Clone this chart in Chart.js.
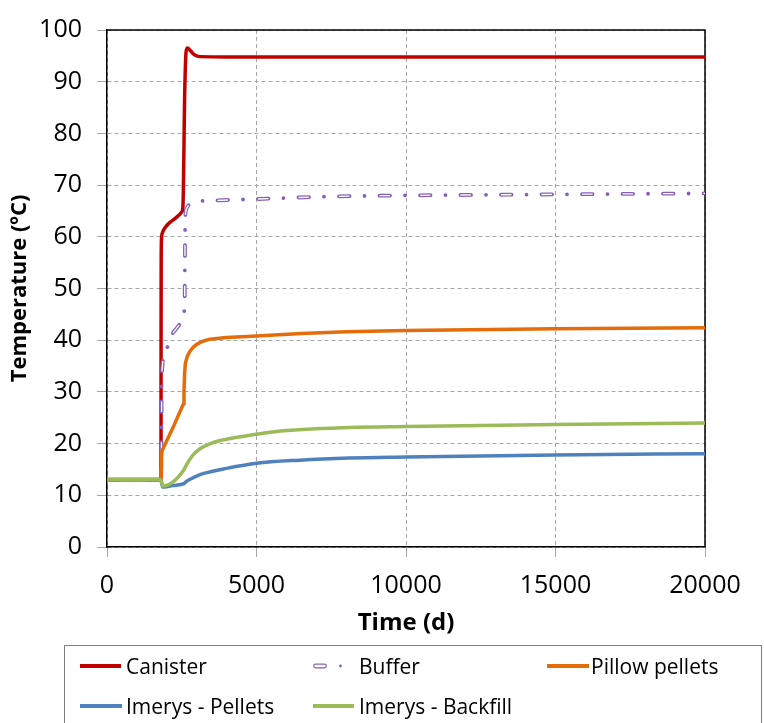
<!DOCTYPE html>
<html>
<head>
<meta charset="utf-8">
<title>Temperature evolution</title>
<script src="https://cdn.jsdelivr.net/npm/chart.js@4.4.0/dist/chart.umd.min.js"></script>
<style>
  body { margin: 0; background: #fff; }
  #wrap { position: relative; width: 764px; height: 723px; overflow: hidden; font-family: 'Open Sans', sans-serif; }
  #legend { position: absolute; left: 64px; top: 645px; width: 698px; height: 100px; border: 1.5px solid #808080; box-sizing: border-box; }
  .item { position: absolute; height: 30px; display: flex; align-items: center; font-size: 21px; color: #000; white-space: nowrap; }
  .swatch { display: inline-block; width: 42px; height: 4px; }
</style>
</head>
<body>
<div id="wrap">
  <canvas id="myChart" width="764" height="723"></canvas>
  <div id="legend"></div>
</div>
<script>
'use strict';

// time in days, temperature in ºC
let canister = [[0, 13.0], [1790, 13.0], [1806, 14], [1808, 40], [1812, 55], [1822, 59.5], [1845, 60.6],
  [1885, 61.2], [1960, 61.9], [2050, 62.5], [2330, 63.8], [2500, 64.8], [2540, 66], [2600, 88],
  [2640, 95.5], [2670, 96.4], [2700, 96.5], [2760, 96.2], [2850, 95.6], [2950, 95.1], [3100, 94.85],
  [4000, 94.8], [20000, 94.8]];
let buffer = [[0, 13.0], [1800, 13.0], [1822, 20], [1832, 33], [1940, 37.4], [2100, 40.2], [2270, 41.9],
  [2552, 44.3], [2595, 47], [2605, 55], [2615, 63], [2650, 65.3], [2940, 66.7], [3500, 67.0],
  [5000, 67.3], [7500, 67.8], [10000, 68.0], [15000, 68.2], [20000, 68.4]];
let pillowPellets = [[0, 13.1], [1800, 13.1], [1812, 15], [1825, 17.6], [1840, 18.6], [2200, 23],
  [2548, 27.6], [2575, 30], [2595, 33.5], [2620, 35.5], [2680, 36.8], [2776, 37.9], [2880, 38.6],
  [3000, 39.2], [3200, 39.8], [3445, 40.2], [4000, 40.5], [5000, 40.8], [6500, 41.3], [8000, 41.65],
  [10000, 41.9], [15000, 42.2], [20000, 42.4]];
let imerysPellets = [[0, 13.0], [1800, 13.0], [1860, 11.6], [2200, 11.9], [2590, 12.3], [2620, 12.5],
  [2850, 13.3], [3110, 14.0], [3500, 14.6], [3900, 15.1], [5000, 16.2], [6450, 16.8], [8100, 17.2],
  [10000, 17.4], [15000, 17.8], [20000, 18.05]];
let imerysBackfill = [[0, 13.0], [1800, 13.0], [1860, 11.8], [2590, 15.1], [2630, 15.6], [2850, 17.6],
  [3110, 19.0], [3500, 20.1], [3780, 20.6], [5000, 21.8], [5600, 22.3], [8100, 23.1], [10000, 23.3],
  [15000, 23.7], [20000, 24.0]];

let seriesNames = ['Canister', 'Buffer', 'Pillow pellets', 'Imerys - Pellets', 'Imerys - Backfill'];
let seriesColors = ['#C00000', '#8660B8', '#E46C0A', '#4F81BD', '#9BBB59'];

let xMin = 0, xMax = 20000, xStep = 5000;
let yMin = 0, yMax = 100, yStep = 10;

function toPoints(arr) {
    return arr.map(p => ({ x: p[0], y: p[1] }));
}

function lineSet(label, data, color, order) {
    return {
        label: label,
        data: toPoints(data),
        borderColor: color,
        borderWidth: 3.5,
        pointRadius: 0,
        cubicInterpolationMode: 'monotone',
        borderJoinStyle: 'round',
        order: order
    };
}

let datasets = [
    lineSet(seriesNames[0], canister, seriesColors[0], 7),
    Object.assign(lineSet(seriesNames[1], buffer, seriesColors[1], 6), {
        borderWidth: 3.8, borderCapStyle: 'round', borderDash: [10.5, 15, 0.01, 15]
    }),
    // white core on the buffer dashes, gives them the hollow look
    Object.assign(lineSet('', buffer, '#ffffff', 5), {
        borderWidth: 1.3, borderCapStyle: 'butt', borderDash: [10.5, 30.01]
    }),
    // straight segments here, the ramp before the jump is linear
    Object.assign(lineSet(seriesNames[2], pillowPellets, seriesColors[2], 4), {
        cubicInterpolationMode: 'default', tension: 0
    }),
    lineSet(seriesNames[3], imerysPellets, seriesColors[3], 3),
    lineSet(seriesNames[4], imerysBackfill, seriesColors[4], 2)
];

// top and right edges of the plot box
let plotFrame = {
    id: 'plotFrame',
    beforeDatasetsDraw(chart) {
        let ctx = chart.ctx;
        let a = chart.chartArea;
        ctx.save();
        ctx.strokeStyle = '#000';
        ctx.lineWidth = 1.5;
        ctx.beginPath();
        ctx.moveTo(a.left, a.top);
        ctx.lineTo(a.right, a.top);
        ctx.lineTo(a.right, a.bottom);
        ctx.stroke();
        ctx.restore();
    }
};

let gridColor = '#a6a6a6';
let ctx = document.getElementById('myChart').getContext('2d');

let myChart = new Chart(ctx, {
    type: 'line',
    data: { datasets: datasets },
    plugins: [plotFrame],
    options: {
        responsive: false,
        animation: false,
        devicePixelRatio: 1,
        layout: { padding: { top: 19, right: 59, bottom: 78, left: 0 } },
        plugins: { legend: { display: false }, tooltip: { enabled: false } },
        scales: {
            x: {
                type: 'linear',
                min: xMin,
                max: xMax,
                afterFit(scale) { scale.height = 98; },
                ticks: {
                    stepSize: xStep,
                    padding: 14,
                    color: '#000',
                    font: { family: 'Open Sans', size: 25 },
                    maxRotation: 0,
                    callback: v => String(v)
                },
                grid: { color: gridColor, tickColor: gridColor, tickLength: 10, lineWidth: 1 },
                border: { display: true, color: '#000', width: 1.5, dash: [4, 3] },
                title: {
                    display: true,
                    text: 'Time (d)',
                    color: '#000',
                    font: { family: 'Open Sans', size: 24, weight: 'bold' },
                    padding: { top: 0, bottom: 7 }
                }
            },
            y: {
                min: yMin,
                max: yMax,
                afterFit(scale) { scale.width = 107; },
                ticks: {
                    stepSize: yStep,
                    padding: 15,
                    color: '#000',
                    font: { family: 'Open Sans', size: 25 },
                    callback: v => String(v)
                },
                grid: { color: gridColor, tickColor: gridColor, tickLength: 10, lineWidth: 1 },
                border: { display: true, color: '#000', width: 1.5, dash: [4, 3] },
                title: {
                    display: true,
                    text: 'Temperature (ºC)',
                    color: '#000',
                    font: { family: 'Open Sans', size: 22, weight: 'bold' },
                    padding: { top: 7, bottom: 0 }
                }
            }
        }
    }
});

// legend below the chart, laid out in columns
let legendItems = [
    { name: seriesNames[0], left: 15, top: 5, width: 41, gap: 5 },
    { name: seriesNames[1], left: 248, top: 5, width: 30, gap: 16, dashed: true },
    { name: seriesNames[2], left: 482, top: 5, width: 42, gap: 2 },
    { name: seriesNames[3], left: 15, top: 45, width: 42, gap: 4 },
    { name: seriesNames[4], left: 248, top: 45, width: 41, gap: 5 }
];

let legendEl = document.getElementById('legend');
for (let i = 0; i < legendItems.length; i++) {
    let it = legendItems[i];
    let color = seriesColors[seriesNames.indexOf(it.name)];
    let div = document.createElement('div');
    div.className = 'item';
    div.style.left = it.left + 'px';
    div.style.top = it.top + 'px';
    let sw;
    if (it.dashed) {
        sw = document.createElementNS('http://www.w3.org/2000/svg', 'svg');
        sw.setAttribute('width', it.width);
        sw.setAttribute('height', 10);
        sw.innerHTML = '<rect x="0.75" y="3.2" width="12.5" height="3.6" rx="1.8" fill="#fff" stroke="' + color + '" stroke-width="1.2"/>' +
            '<circle cx="27.5" cy="5" r="1.4" fill="' + color + '"/>';
    } else {
        sw = document.createElement('span');
        sw.className = 'swatch';
        sw.style.width = it.width + 'px';
        sw.style.background = color;
    }
    sw.style.marginRight = it.gap + 'px';
    div.appendChild(sw);
    let txt = document.createElement('span');
    txt.textContent = it.name;
    div.appendChild(txt);
    legendEl.appendChild(div);
}
</script>
</body>
</html>
